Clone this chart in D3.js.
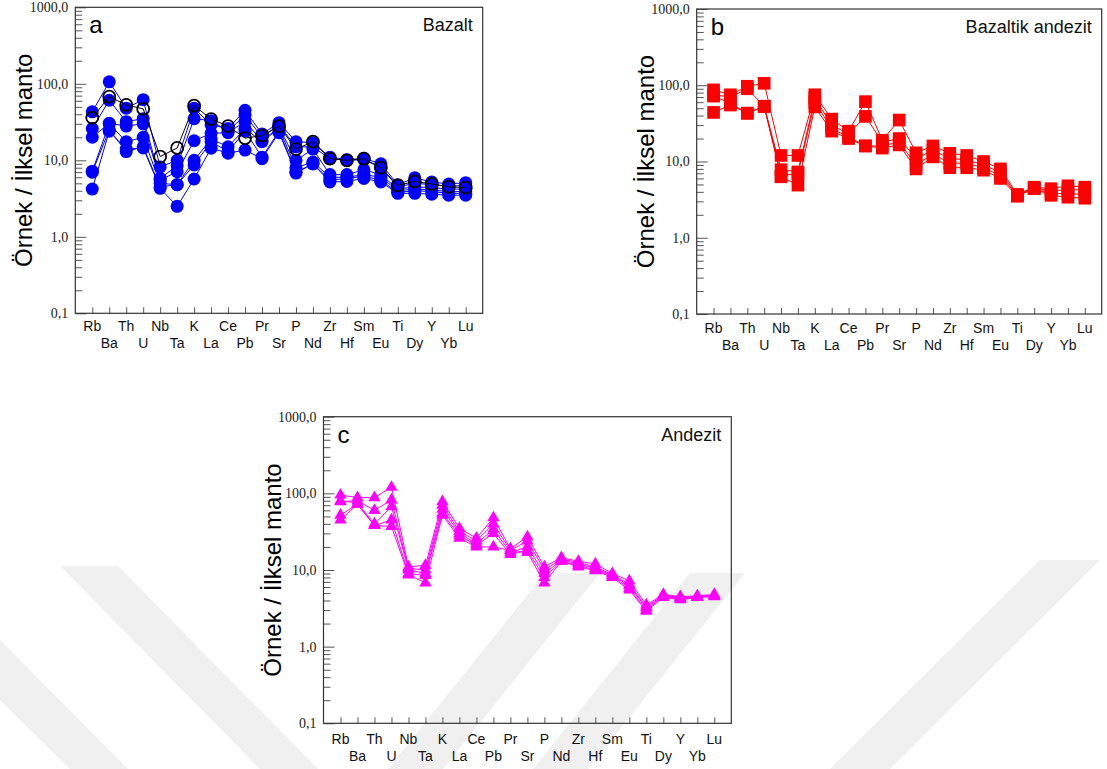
<!DOCTYPE html>
<html>
<head>
<meta charset="utf-8">
<script src="https://cdn.jsdelivr.net/npm/d3@7"></script>
<style>
body { margin: 0; background: #fff; }
svg { display: block; }
</style>
</head>
<body>
<main></main>
<script>
const elements = ["Rb", "Ba", "Th", "U", "Nb", "Ta", "K", "La", "Ce", "Pb", "Pr", "Sr", "P", "Nd", "Zr", "Hf", "Sm", "Eu", "Ti", "Dy", "Y", "Yb", "Lu"];

// a - Bazalt (filled blue circles)
const bazaltSamples = [
    [43, 106, 48, 62, 8.2, 10, 48, 29, 26, 45, 22, 31, 17.5, 17, 11, 10.2, 10.6, 9, 4.8, 5.9, 5.2, 4.9, 5.1],
    [26, 61, 32, 35, 5.8, 8.5, 35, 33, 24, 39, 20, 29, 15, 15, 10.5, 10, 10.2, 8, 4.5, 5.0, 4.8, 4.6, 4.7],
    [20, 30.5, 28, 30, 5.5, 7.1, 18, 22.5, 23, 32, 18, 27, 10, 14, 6.5, 6.5, 7.5, 6.5, 4.2, 4.5, 4.4, 4.2, 4.2],
    [7.2, 30, 17.5, 20, 5.0, 4.8, 10, 19, 15, 26, 17.5, 26, 8, 9.5, 6, 6, 6.5, 6, 4.0, 4.2, 4.1, 3.9, 3.9],
    [7.0, 25, 13, 15, 4.5, 4.8, 8.7, 17.5, 13, 24, 11, 24, 7, 9, 5.5, 5.8, 6.2, 5.5, 3.8, 4.0, 3.9, 3.7, 3.7],
    [4.2, 24, 14, 14.5, 4.3, 2.5, 5.7, 14.4, 12.4, 13.6, 10.5, 23, 6.8, 9, 5.2, 5.3, 5.8, 5.2, 3.7, 3.7, 3.6, 3.5, 3.5]
];
// a - Bazalt (open black circles)
const bazaltOpen = [36, 68, 53, 47, 11.2, 14.5, 52, 34.5, 28, 19.5, 21, 28, 14, 17.5, 10.5, 10, 10.5, 8, 4.7, 5.3, 4.9, 4.5, 4.4];

// b - Bazaltik andezit (red squares)
const bazaltikSamples = [
    [87, 75, 97, 106, 12, 12, 75, 36, 25, 61, 19, 35, 13, 16, 12.8, 12, 10, 8, 3.7, 4.6, 4.4, 4.8, 4.6],
    [75, 70, 90, 53, 7.8, 7.3, 68, 30, 23, 39, 18, 20, 11, 14, 11, 10.5, 9, 7.2, 3.6, 4.5, 4.1, 4.3, 4.2],
    [72, 58, 43, 53, 6.5, 7, 60, 27, 21, 16, 16, 18, 9, 12.5, 9.5, 9.5, 8.3, 6.5, 3.6, 4.4, 3.8, 3.8, 3.7],
    [44, 55, 43, 53, 6.3, 4.9, 52, 25, 20, 16, 15, 16.5, 8, 11.5, 8.3, 8.3, 7.7, 6, 3.5, 4.4, 3.6, 3.4, 3.3]
];

// c - Andezit (magenta triangles)
const andezitSamples = [
    [95, 88, 88, 120, 11, 11.5, 78, 35, 26, 48, 19, 27, 11, 14.5, 13, 12, 9, 7.2, 3.5, 4.8, 4.5, 4.6, 4.8],
    [78, 80, 60, 82, 10.5, 10, 70, 32, 24, 40, 18, 24, 10, 14, 12.5, 11, 8.7, 6.5, 3.3, 4.7, 4.4, 4.5, 4.7],
    [80, 75, 40, 67, 10, 9, 62, 30, 22, 34, 17, 20, 9, 13.5, 12, 10.5, 8.5, 6.2, 3.2, 4.6, 4.3, 4.5, 4.6],
    [52, 72, 38, 45, 9, 8.5, 55, 28, 21, 30, 16, 18, 8, 13, 11.5, 10, 8.3, 5.8, 3.0, 4.5, 4.2, 4.4, 4.6],
    [45, 72, 38, 37, 8.6, 6.8, 52, 26, 20, 20, 18, 17, 6.8, 13, 11, 9.8, 8, 5.5, 2.9, 4.4, 4.1, 4.4, 4.5]
];

const yMajor = [0.1, 1, 10, 100, 1000];
const yMinor = [];
[0.1, 1, 10, 100].forEach(b => d3.range(2, 10).forEach(m => yMinor.push(b * m)));

const w = 1107;
const h = 769;
const svg = d3.select('main').append('svg').attr('width', w).attr('height', h)
    .style('font-family', 'Liberation Sans, Arial, sans-serif');

// faint watermark stripes behind the lower chart
const stripes = [
    [[60, 566], [118, 566], [318, 769], [260, 769]],
    [[0, 640], [0, 700], [70, 769], [128, 769]],
    [[545, 573], [600, 573], [443, 769], [388, 769]],
    [[690, 573], [745, 573], [588, 769], [533, 769]],
    [[1040, 560], [1100, 560], [890, 769], [830, 769]]
];
svg.append('g').selectAll('path').data(stripes).enter().append('path')
    .attr('d', d => 'M' + d.join('L') + 'Z')
    .attr('fill', '#f0f0f0');

const fmt = d => d3.format('.1f')(d).replace('.', ',');

const panels = [
    { letter: 'a', name: 'Bazalt', left: 75.3, top: 7.3, right: 482.7, bottom: 313.3, data: bazaltSamples, color: '#0000ff', shape: 'circle', open: bazaltOpen, labDy: 0 },
    { letter: 'b', name: 'Bazaltik andezit', left: 696.7, top: 9, right: 1101.7, bottom: 314, data: bazaltikSamples, color: '#ff0000', shape: 'square', labDy: 1 },
    { letter: 'c', name: 'Andezit', left: 323.5, top: 416.7, right: 731.3, bottom: 723.3, data: andezitSamples, color: '#ff00ff', shape: 'triangle', labDy: 3 }
];

panels.forEach(p => {
    const pw = p.right - p.left;
    const ph = p.bottom - p.top;
    const g = svg.append('g').attr('transform', `translate(${p.left},${p.top})`);
    const x = d3.scalePoint().domain(elements).range([0, pw]).padding(1);
    const y = d3.scaleLog().domain([0.1, 1000]).range([ph, 0]);

    // minor / major y ticks pointing inward
    g.append('g').call(d3.axisLeft(y).tickValues(yMinor).tickSize(-7).tickFormat(''))
        .call(a => a.select('.domain').remove())
        .selectAll('line').attr('stroke', '#555');
    const yAxis = g.append('g').call(d3.axisLeft(y).tickValues(yMajor).tickSize(-11).tickPadding(7).tickFormat(fmt));
    yAxis.select('.domain').remove();
    yAxis.selectAll('line').attr('stroke', '#555');
    yAxis.selectAll('text')
        .attr('font-family', 'Liberation Serif, Times New Roman, serif')
        .attr('font-size', 14)
        .attr('fill', '#222');

    // x ticks pointing inward
    const xAxis = g.append('g').attr('transform', `translate(0,${ph})`)
        .call(d3.axisBottom(x).tickSize(-6).tickFormat(''));
    xAxis.select('.domain').remove();
    xAxis.selectAll('line').attr('stroke', '#555');

    g.append('g').selectAll('text').data(elements).enter().append('text')
        .attr('x', d => x(d))
        .attr('y', (d, i) => ph + p.labDy + (i % 2 === 0 ? 18 : 35))
        .attr('text-anchor', 'middle')
        .attr('font-size', 14)
        .attr('fill', '#111')
        .text(d => d);

    // frame
    g.append('rect').attr('width', pw).attr('height', ph)
        .attr('fill', 'none').attr('stroke', '#333').attr('stroke-width', 1.2);

    const line = d3.line().x((d, i) => x(elements[i])).y(d => y(d));

    const symbol = p.shape === 'square' ? d3.symbol(d3.symbolSquare, 160)
        : p.shape === 'triangle' ? d3.symbol(d3.symbolTriangle, 66) : null;

    p.data.forEach(s => {
        const sg = g.append('g');
        sg.append('path').datum(s).attr('d', line)
            .attr('fill', 'none').attr('stroke', p.color).attr('stroke-width', 1);
        const pts = sg.selectAll('.pt').data(s).enter();
        if (symbol) {
            pts.append('path').attr('class', 'pt')
                .attr('d', symbol)
                .attr('transform', (d, i) => `translate(${x(elements[i])},${y(d)})`)
                .attr('fill', p.color);
        } else {
            pts.append('circle').attr('class', 'pt')
                .attr('cx', (d, i) => x(elements[i]))
                .attr('cy', d => y(d))
                .attr('r', 6.5)
                .attr('fill', p.color);
        }
    });

    if (p.open) {
        const og = g.append('g');
        og.append('path').datum(p.open).attr('d', line)
            .attr('fill', 'none').attr('stroke', '#000').attr('stroke-width', 1);
        og.selectAll('circle').data(p.open).enter().append('circle')
            .attr('cx', (d, i) => x(elements[i]))
            .attr('cy', d => y(d))
            .attr('r', 6)
            .attr('fill', 'none')
            .attr('stroke', '#000')
            .attr('stroke-width', 1.8);
    }

    g.append('text').attr('x', 14).attr('y', 26)
        .attr('font-size', 24).attr('fill', '#000').text(p.letter);
    g.append('text').attr('x', pw - 10).attr('y', 24)
        .attr('text-anchor', 'end').attr('font-size', 18).attr('fill', '#111').text(p.name);

    svg.append('text')
        .attr('transform', `translate(${p.left - 43},${p.top + ph / 2}) rotate(-90)`)
        .attr('text-anchor', 'middle')
        .attr('font-size', 24)
        .attr('fill', '#000')
        .text('Örnek / İlksel manto');
});
</script>
</body>
</html>
